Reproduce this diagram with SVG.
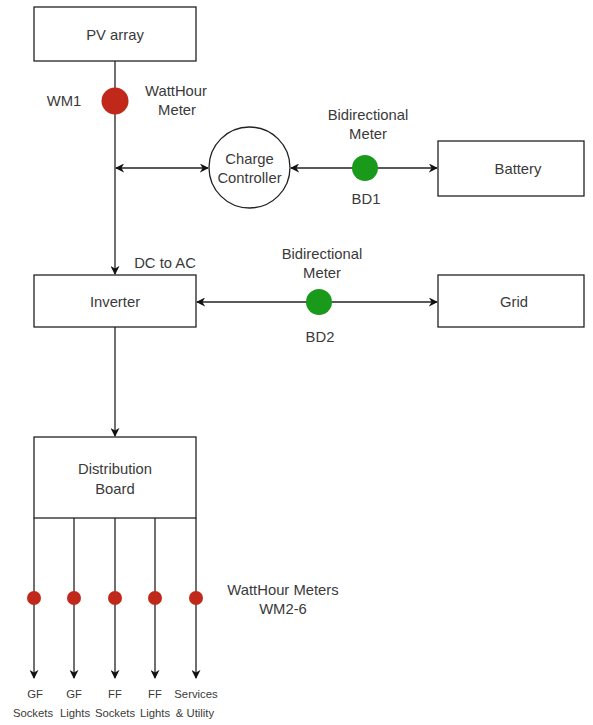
<svg xmlns="http://www.w3.org/2000/svg" width="593" height="725" viewBox="0 0 593 725">
<style>
.box{fill:#fff;stroke:#222;stroke-width:1.3}
.ln{fill:none;stroke:#222;stroke-width:1.3}
.t{font-family:"Liberation Sans",Arial,sans-serif;font-size:14.8px;fill:#3a3a3a;text-anchor:middle}
.s{font-family:"Liberation Sans",Arial,sans-serif;font-size:11.3px;fill:#3a3a3a;text-anchor:middle}
.red{fill:#c0281a}
.grn{fill:#1a9a1a}
</style>
<defs>
<marker id="ae" viewBox="0 0 10 10" refX="9" refY="5" markerWidth="9" markerHeight="9" markerUnits="userSpaceOnUse" orient="auto">
<path d="M0,0 L10,5 L0,10 L3,5 Z" fill="#111"/>
</marker>
<marker id="as" viewBox="0 0 10 10" refX="1" refY="5" markerWidth="9" markerHeight="9" markerUnits="userSpaceOnUse" orient="auto">
<path d="M10,0 L0,5 L10,10 L7,5 Z" fill="#111"/>
</marker>
</defs>
<rect width="593" height="725" fill="#fff"/>
<g id="connectors">
<line class="ln" x1="115" y1="61" x2="115" y2="274" marker-end="url(#ae)"/>
<line class="ln" x1="116" y1="168" x2="208" y2="168" marker-start="url(#as)" marker-end="url(#ae)"/>
<line class="ln" x1="291" y1="168" x2="437" y2="168" marker-start="url(#as)" marker-end="url(#ae)"/>
<line class="ln" x1="197" y1="302" x2="437" y2="302" marker-start="url(#as)" marker-end="url(#ae)"/>
<line class="ln" x1="115" y1="327" x2="115" y2="436" marker-end="url(#ae)"/>
<line class="ln" x1="34" y1="518" x2="34" y2="678" marker-end="url(#ae)"/>
<line class="ln" x1="74" y1="518" x2="74" y2="678" marker-end="url(#ae)"/>
<line class="ln" x1="115" y1="518" x2="115" y2="678" marker-end="url(#ae)"/>
<line class="ln" x1="155" y1="518" x2="155" y2="678" marker-end="url(#ae)"/>
<line class="ln" x1="196" y1="518" x2="196" y2="678" marker-end="url(#ae)"/>
</g>
<g id="pv">
<rect class="box" x="34" y="7" width="162" height="54"/>
<text class="t" x="115" y="40">PV array</text>
</g>
<g id="wm1">
<circle class="red" cx="115" cy="101" r="13.5"/>
<text class="t" x="64" y="106">WM1</text>
<text class="t" x="176" y="96">WattHour</text>
<text class="t" x="177" y="115">Meter</text>
</g>
<g id="cc">
<circle cx="249.5" cy="167.5" r="40.5" fill="#fff" stroke="#222" stroke-width="1.3"/>
<text class="t" x="249.5" y="164">Charge</text>
<text class="t" x="249.5" y="183">Controller</text>
</g>
<g id="bd1">
<circle class="grn" cx="365" cy="168" r="13"/>
<text class="t" x="368" y="120">Bidirectional</text>
<text class="t" x="368" y="139">Meter</text>
<text class="t" x="366" y="204">BD1</text>
</g>
<g id="battery">
<rect class="box" x="438" y="141" width="146" height="55"/>
<text class="t" x="518" y="174">Battery</text>
</g>
<g id="inverter">
<rect class="box" x="34" y="275" width="162" height="52"/>
<text class="t" x="115" y="307">Inverter</text>
<text class="t" x="165" y="268">DC to AC</text>
</g>
<g id="bd2">
<circle class="grn" cx="319" cy="302" r="13"/>
<text class="t" x="322" y="259">Bidirectional</text>
<text class="t" x="322" y="278">Meter</text>
<text class="t" x="320" y="342">BD2</text>
</g>
<g id="grid">
<rect class="box" x="438" y="275" width="146" height="52"/>
<text class="t" x="514" y="307">Grid</text>
</g>
<g id="db">
<rect class="box" x="34" y="437" width="162" height="81"/>
<text class="t" x="115" y="474">Distribution</text>
<text class="t" x="115" y="494">Board</text>
</g>
<g id="meters">
<circle class="red" cx="34" cy="598" r="7"/>
<circle class="red" cx="74" cy="598" r="7"/>
<circle class="red" cx="115" cy="598" r="7"/>
<circle class="red" cx="155" cy="598" r="7"/>
<circle class="red" cx="196" cy="598" r="7"/>
<text class="t" x="283" y="595">WattHour Meters</text>
<text class="t" x="283" y="614">WM2-6</text>
</g>
<g id="loads">
<text class="s" x="35" y="698">GF</text>
<text class="s" x="74" y="698">GF</text>
<text class="s" x="115" y="698">FF</text>
<text class="s" x="155" y="698">FF</text>
<text class="s" x="196" y="698">Services</text>
<text class="s" x="33" y="717">Sockets</text>
<text class="s" x="75" y="717">Lights</text>
<text class="s" x="115" y="717">Sockets</text>
<text class="s" x="155" y="717">Lights</text>
<text class="s" x="195" y="717">&amp; Utility</text>
</g>
</svg>
